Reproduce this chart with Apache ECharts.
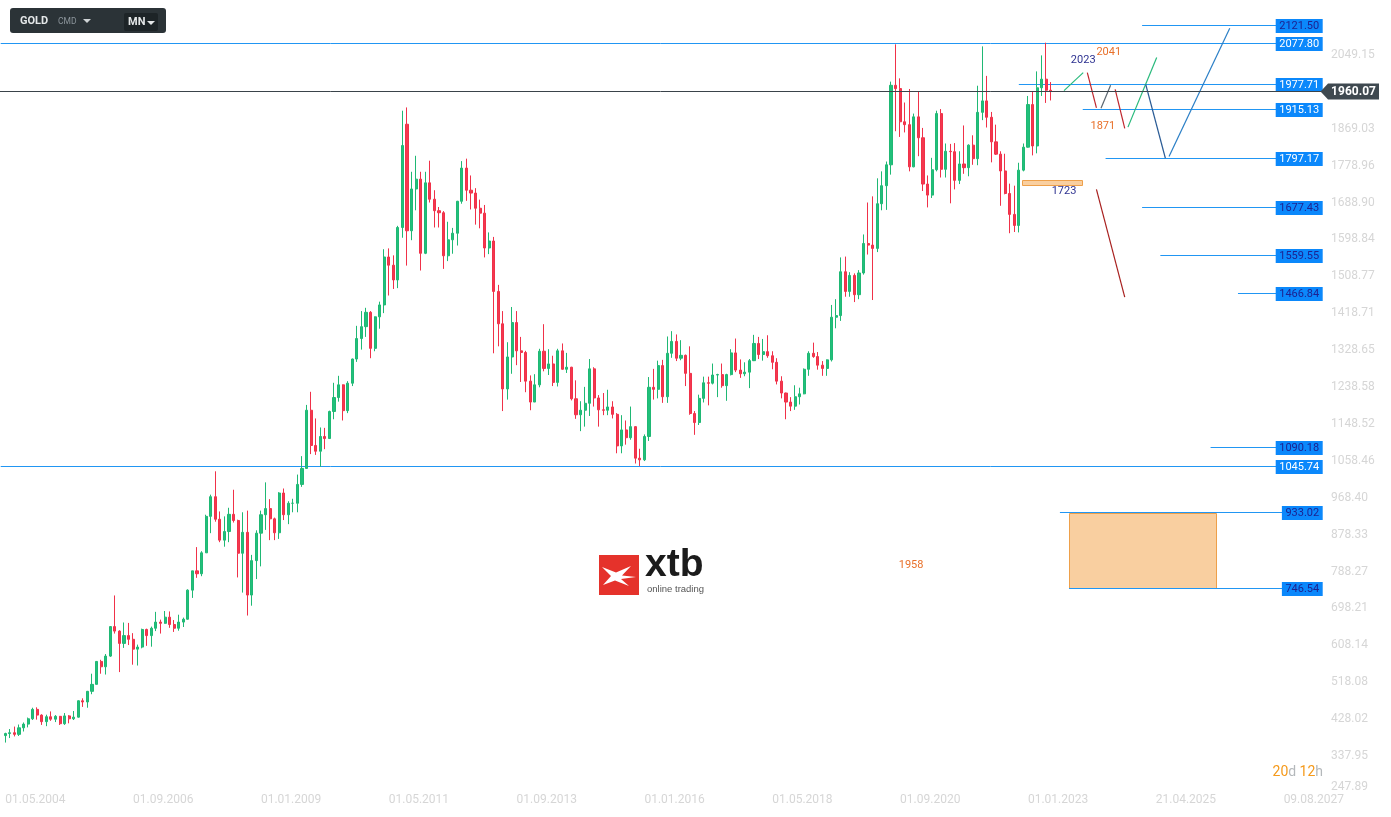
<!DOCTYPE html>
<html><head><meta charset="utf-8">
<script src="https://cdn.jsdelivr.net/npm/echarts@6/dist/echarts.min.js"></script>
<style>html,body{margin:0;padding:0;background:#fff;overflow:hidden}#c{width:1391px;height:817px}</style>
</head><body><div id="c"></div>
<script>
// Monthly GOLD candles, rows are [open, high, low, close]
const gold2004 = [[388,395,371,393],[393,404,382,395],[395,410,386,391],[391,415,387,407],[407,420,398,416],[416,432,408,429],[429,456,426,452],[452,457,427,438]];
const gold2005 = [[438,440,414,422],[422,439,411,434],[434,447,424,428],[428,438,421,435],[435,436,414,417],[417,443,414,436],[436,438,418,429],[429,448,426,433],[433,474,432,473],[473,479,458,470],[470,497,456,496],[496,539,489,513]];
const gold2006 = [[513,570,513,569],[569,573,539,556],[556,587,537,582],[582,655,580,654],[654,730,637,643],[643,645,543,613],[613,664,602,632],[632,663,609,623],[623,638,561,599],[599,610,559,604],[604,649,601,647],[647,649,607,632]];
const gold2007 = [[632,654,605,650],[650,690,643,665],[665,671,637,662],[662,692,661,677],[677,691,651,659],[659,670,641,650],[650,683,644,665],[665,676,653,672],[672,745,671,743],[743,790,724,790],[790,848,773,783],[783,838,777,834]];
const gold2008 = [[834,927,834,923],[923,976,882,971],[971,1033,910,916],[916,935,860,865],[865,923,849,886],[886,944,860,928],[928,988,908,913],[913,915,774,833],[833,933,737,884],[884,937,681,731],[731,829,705,815],[815,889,770,882]];
const gold2009 = [[882,937,801,927],[927,1006,890,942],[942,965,865,917],[917,920,865,883],[883,982,868,980],[980,991,914,927],[927,960,904,955],[955,966,933,955],[955,1025,933,1001],[1001,1070,995,1040],[1040,1195,1040,1182],[1182,1227,1075,1096]];
const gold2010 = [[1096,1162,1073,1082],[1082,1140,1044,1118],[1118,1139,1087,1113],[1113,1181,1112,1179],[1179,1249,1160,1213],[1213,1266,1203,1244],[1244,1245,1157,1181],[1181,1253,1175,1248],[1248,1308,1241,1307],[1307,1388,1300,1357],[1357,1424,1330,1386],[1386,1432,1361,1421]];
const gold2011 = [[1421,1424,1309,1333],[1333,1411,1326,1410],[1410,1447,1381,1439],[1439,1575,1419,1556],[1556,1577,1462,1536],[1536,1560,1478,1500],[1500,1632,1480,1628],[1628,1913,1603,1828],[1880,1921,1535,1620],[1620,1764,1597,1722],[1722,1803,1670,1746],[1746,1764,1523,1565]];
const gold2012 = [[1565,1764,1563,1737],[1737,1791,1689,1697],[1697,1719,1628,1669],[1669,1678,1628,1664],[1664,1668,1527,1559],[1559,1642,1546,1598],[1598,1627,1564,1614],[1614,1693,1584,1692],[1692,1790,1686,1773],[1773,1796,1693,1719],[1719,1755,1672,1712],[1712,1724,1635,1675]];
const gold2013 = [[1675,1696,1626,1663],[1663,1683,1555,1578],[1578,1616,1563,1595],[1595,1605,1321,1472],[1472,1488,1338,1393],[1393,1424,1180,1234],[1234,1348,1208,1312],[1312,1434,1271,1396],[1396,1424,1292,1327],[1327,1361,1251,1323],[1323,1327,1226,1253],[1253,1267,1182,1202]];
const gold2014 = [[1202,1270,1202,1244],[1244,1332,1238,1326],[1326,1392,1277,1284],[1284,1331,1268,1295],[1295,1315,1241,1250],[1250,1332,1240,1327],[1327,1345,1281,1282],[1282,1322,1273,1287],[1287,1288,1206,1210],[1210,1255,1161,1171],[1171,1204,1131,1182],[1182,1239,1142,1199]];
const gold2015 = [[1199,1307,1168,1283],[1283,1287,1191,1212],[1212,1219,1142,1183],[1183,1224,1170,1182],[1182,1232,1170,1190],[1190,1204,1162,1172],[1172,1175,1077,1095],[1095,1170,1077,1134],[1134,1157,1098,1115],[1115,1191,1110,1142],[1142,1143,1052,1065],[1065,1088,1046,1061]];
const gold2016 = [[1061,1123,1058,1118],[1118,1263,1107,1238],[1238,1283,1208,1233],[1233,1303,1211,1291],[1291,1305,1200,1215],[1215,1362,1200,1321],[1321,1375,1310,1350],[1350,1367,1302,1309],[1309,1353,1304,1316],[1316,1318,1241,1272],[1272,1338,1171,1174],[1174,1180,1122,1152]];
const gold2017 = [[1152,1220,1146,1211],[1211,1264,1201,1249],[1249,1264,1194,1248],[1248,1296,1245,1268],[1268,1271,1214,1269],[1269,1296,1237,1242],[1242,1271,1205,1269],[1269,1331,1267,1322],[1322,1357,1275,1280],[1280,1306,1261,1271],[1271,1299,1265,1275],[1275,1307,1236,1303]];
const gold2018 = [[1303,1366,1302,1345],[1345,1361,1307,1318],[1318,1356,1303,1325],[1325,1365,1310,1315],[1315,1326,1282,1299],[1299,1309,1245,1253],[1253,1265,1211,1224],[1224,1225,1160,1202],[1202,1214,1180,1192],[1192,1243,1183,1215],[1215,1237,1196,1222],[1222,1284,1221,1282]];
const gold2019 = [[1282,1326,1266,1321],[1321,1347,1310,1313],[1313,1324,1281,1292],[1292,1302,1266,1284],[1284,1306,1266,1305],[1305,1439,1301,1409],[1409,1453,1382,1413],[1413,1555,1400,1520],[1520,1557,1459,1472],[1472,1519,1459,1511],[1511,1516,1446,1464],[1464,1524,1453,1517]];
const gold2020 = [[1517,1611,1513,1589],[1589,1689,1562,1585],[1585,1704,1451,1577],[1577,1748,1568,1686],[1686,1765,1670,1730],[1730,1789,1671,1781],[1781,1984,1757,1975],[1975,2075,1863,1967],[1967,1992,1849,1886],[1886,1933,1860,1879],[1879,1966,1765,1776],[1776,1906,1775,1898]];
const gold2021 = [[1898,1959,1802,1847],[1847,1871,1717,1734],[1734,1755,1677,1707],[1707,1798,1700,1769],[1769,1913,1765,1906],[1906,1917,1750,1770],[1770,1833,1750,1814],[1814,1832,1687,1813],[1813,1834,1721,1743],[1743,1814,1734,1783],[1783,1877,1759,1774],[1774,1831,1753,1829]];
const gold2022 = [[1829,1853,1781,1796],[1796,1974,1780,1909],[1909,2070,1890,1937],[1937,1998,1872,1897],[1897,1910,1787,1837],[1837,1879,1805,1807],[1807,1814,1681,1766],[1766,1808,1709,1711],[1711,1735,1614,1660],[1660,1730,1617,1633],[1633,1786,1616,1768],[1768,1833,1765,1824]];
const gold2023 = [[1824,1949,1823,1928],[1928,1959,1804,1827],[1827,2009,1809,1969],[1969,2048,1949,1990],[1990,2079,1932,1963],[1963,1983,1938,1960]];

const futureSlots = 60;
const xTickLabels = ['01.05.2004','01.09.2006','01.01.2009','01.05.2011','01.09.2013','01.01.2016','01.05.2018','01.09.2020','01.01.2023','21.04.2025','09.08.2027'];
const xTickStep = 28;
const yTickLabels = ['247.89','337.95','428.02','518.08','608.14','698.21','788.27','878.33','968.40','1058.46','1148.52','1238.58','1328.65','1418.71','1508.77','1598.84','1688.90','1778.96','1869.03','1959.09','2049.15'];
const yMin = 247.8915, yStep = 90.063, yMax = 2183.2;

// horizontal levels: [price, start bar index, white text?]
const levels = [[2121.50,249,0],[2077.80,-1,1],[1977.71,222,1],[1915.13,236,1],[1797.17,241,1],[1677.43,249,0],[1559.55,253,0],[1466.84,270,0],[1090.18,264,0],[1045.74,-1,1],[933.02,231,0],[746.54,233,0]];
const lastPrice = 1960.07;
// projection segments: [bar1, price1, bar2, price2, colour]
const segments = [[231.9,1962,236.1,2006,'#27b97b'],[237.0,2006,239.0,1920,'#c0262d'],[240.0,1919,242.1,1975,'#5b6670'],[243.1,1965,245.2,1870,'#c0262d'],[245.9,1873,252.2,2043,'#27b97b'],[249.8,1977,254.1,1797,'#2a5b95'],[254.9,1801,268.2,2114,'#2b7fc6'],[239.0,1721,245.2,1458,'#a8201f']];
// zones: [bar1, price1, bar2, price2]
const zones = [[233.0,929,265.1,746.54],[222.9,1741.5,236.0,1729.3]];
// notes: [bar, price, text, colour]
const notes = [[236.1,2035.6,'2023','#2d3190'],[241.7,2055.9,'2041','#e8702a'],[240.4,1874,'1871','#e8702a'],[231.9,1716.4,'1723','#2d3190'],[198.4,802.5,'1958','#e8702a']];

const candles = [].concat(gold2004,gold2005,gold2006,gold2007,gold2008,gold2009,gold2010,gold2011,gold2012,gold2013,gold2014,gold2015,gold2016,gold2017,gold2018,gold2019,gold2020,gold2021,gold2022,gold2023);
const slotCount = candles.length + futureSlots;
const slots = Array.from({length: slotCount}, (_, i) => String(i));
const candleData = candles.map(r => [r[0], r[3], r[2], r[1]]);

const chart = echarts.init(document.getElementById('c'), null, {renderer: 'canvas'});
const snap = v => Math.round(v - 0.5) + 0.5;

chart.setOption({
  animation: false,
  backgroundColor: '#ffffff',
  grid: {left: 3, right: 64, top: 0, bottom: 24, containLabel: false, outerBoundsMode: 'none'},
  xAxis: [{
    type: 'category', data: slots, boundaryGap: true,
    axisLine: {show: false}, axisTick: {show: false}, splitLine: {show: false},
    axisLabel: {
      interval: (i) => i % xTickStep === 0,
      formatter: (v, i) => xTickLabels[i / xTickStep] || '',
      align: 'left', verticalAlign: 'middle', margin: 7,
      color: '#d6d6d6', fontSize: 12, fontFamily: 'Roboto'
    }
  }, {
    type: 'value', min: -0.5, max: slotCount - 0.5, show: false
  }],
  yAxis: [{
    type: 'value', position: 'right', min: yMin, max: yMax, interval: yStep, scale: true,
    axisLine: {show: false}, axisTick: {show: false}, splitLine: {show: false},
    axisLabel: {
      margin: 4, align: 'left', color: '#d6d6d6', fontSize: 12, fontFamily: 'Roboto',
      showMaxLabel: false, verticalAlignMinLabel: 'bottom',
      formatter: (v) => yTickLabels[Math.round((v - yMin) / yStep)] || ''
    }
  }],
  series: [
    {
      type: 'custom', xAxisIndex: 1, yAxisIndex: 0, clip: false, z: 1,
      data: zones.map(z => [z[0], z[1], z[2], z[3]]),
      renderItem: (params, api) => {
        const z = zones[params.dataIndex];
        const a = api.coord([z[0], z[1]]), b = api.coord([z[2], z[3]]);
        return {type: 'rect', shape: {x: snap(a[0]), y: snap(a[1]), width: Math.round(b[0] - a[0]), height: Math.round(b[1] - a[1])},
          style: {fill: '#f9cfa0', stroke: '#eea04a', lineWidth: 1}};
      }
    },
    {
      type: 'custom', xAxisIndex: 1, yAxisIndex: 0, clip: false, z: 2,
      data: levels.map(l => [l[1], l[0]]),
      renderItem: (params, api) => {
        const l = levels[params.dataIndex];
        const p = api.coord([l[1], l[0]]);
        const cs = params.coordSys;
        const right = cs.x + cs.width - 4.3;
        const y = snap(p[1]);
        return {type: 'group', children: [
          {type: 'line', shape: {x1: Math.max(p[0], 0), y1: y, x2: right - 2, y2: y}, style: {stroke: '#2196f3', lineWidth: 1}},
          {type: 'text', x: right, y: y + 0.5, style: {text: l[0].toFixed(2), align: 'right', verticalAlign: 'middle',
            fill: l[2] ? '#ffffff' : '#1d2290', backgroundColor: '#0b88fb', padding: [2, 3.5, 1, 3.5], font: '11px Roboto'}}
        ]};
      }
    },
    {
      type: 'candlestick', xAxisIndex: 0, yAxisIndex: 0, z: 3,
      data: candleData, barWidth: 2.6,
      itemStyle: {color: '#21c07b', color0: '#f4384f', borderColor: '#1fb874', borderColor0: '#f03149', borderWidth: 1}
    },
    {
      type: 'custom', xAxisIndex: 1, yAxisIndex: 0, clip: false, z: 4,
      data: segments.map(s => [s[0], s[1], s[2], s[3]]),
      renderItem: (params, api) => {
        const s = segments[params.dataIndex];
        const a = api.coord([s[0], s[1]]), b = api.coord([s[2], s[3]]);
        return {type: 'line', shape: {x1: a[0], y1: a[1], x2: b[0], y2: b[1]}, style: {stroke: s[4], lineWidth: 1.2}};
      }
    },
    {
      type: 'custom', xAxisIndex: 1, yAxisIndex: 0, clip: false, z: 4,
      data: notes.map(n => [n[0], n[1]]),
      renderItem: (params, api) => {
        const n = notes[params.dataIndex];
        const p = api.coord([n[0], n[1]]);
        return {type: 'text', x: p[0], y: p[1], style: {text: n[2], fill: n[3], font: '11px Roboto', align: 'center', verticalAlign: 'middle'}};
      }
    },
    {
      type: 'custom', xAxisIndex: 1, yAxisIndex: 0, clip: false, z: 5,
      data: [[slotCount - 1, lastPrice]],
      renderItem: (params, api) => {
        const p = api.coord([slotCount - 1, lastPrice]);
        const cs = params.coordSys;
        const right = cs.x + cs.width;
        const y = snap(p[1]);
        return {type: 'group', children: [
          {type: 'line', shape: {x1: 0, y1: y, x2: right - 6, y2: y}, style: {stroke: '#3a434a', lineWidth: 1}},
          {type: 'polygon', shape: {points: [[right - 6.5, y], [right + 1, y - 8], [right + 52, y - 8], [right + 52, y + 8], [right + 1, y + 8]]}, style: {fill: '#3f4950'}},
          {type: 'text', x: right + 26.5, y: y + 0.5, style: {text: lastPrice.toFixed(2), fill: '#ffffff', font: 'bold 12px Roboto', align: 'center', verticalAlign: 'middle'}}
        ]};
      }
    }
  ],
  graphic: [
    {type: 'rect', shape: {x: 10, y: 8, width: 156, height: 25, r: 3}, style: {fill: '#2b3337'}, z: 100},
    {type: 'text', x: 20, y: 21, style: {text: 'GOLD', font: 'bold 11px Roboto', fill: '#e4e7e8', verticalAlign: 'middle'}, z: 101},
    {type: 'text', x: 58, y: 21.5, style: {text: 'CMD', font: '8.5px Roboto', fill: '#8b949a', verticalAlign: 'middle'}, z: 101},
    {type: 'polygon', shape: {points: [[83, 19], [91, 19], [87, 23]]}, style: {fill: '#cfd4d6'}, z: 101},
    {type: 'rect', shape: {x: 124, y: 13, width: 34, height: 18, r: 2}, style: {fill: '#1d2427'}, z: 101},
    {type: 'text', x: 128, y: 22, style: {text: 'MN', font: 'bold 11px Roboto', fill: '#e4e7e8', verticalAlign: 'middle'}, z: 102},
    {type: 'polygon', shape: {points: [[147, 21], [155, 21], [151, 25]]}, style: {fill: '#e4e7e8'}, z: 102},
    {type: 'rect', shape: {x: 599, y: 555, width: 40, height: 40}, style: {fill: '#e5322b'}, z: 100},
    {type: 'polygon', shape: {points: [[602, 567], [616, 572.5], [631, 566], [622, 575.5], [636, 577], [621, 579], [629, 586], [615, 580.5], [603, 585], [611, 576]]}, style: {fill: '#ffffff'}, z: 101},
    {type: 'text', x: 645, y: 584.5, style: {text: 'xtb', font: 'bold 39px "Liberation Sans"', fill: '#1b1b1b', verticalAlign: 'bottom'}, z: 101},
    {type: 'text', x: 647, y: 594, style: {text: 'online trading', font: '9.5px "Liberation Sans"', fill: '#555555', verticalAlign: 'bottom'}, z: 101},
    {type: 'text', x: 1323, y: 772, style: {text: '{o|20}{g|d} {o|12}{g|h}', align: 'right', verticalAlign: 'middle',
      rich: {o: {fill: '#f59a1b', font: '14px Roboto'}, g: {fill: '#b4b8bb', font: '14px Roboto'}}}, z: 101}
  ]
});
</script>
</body></html>
